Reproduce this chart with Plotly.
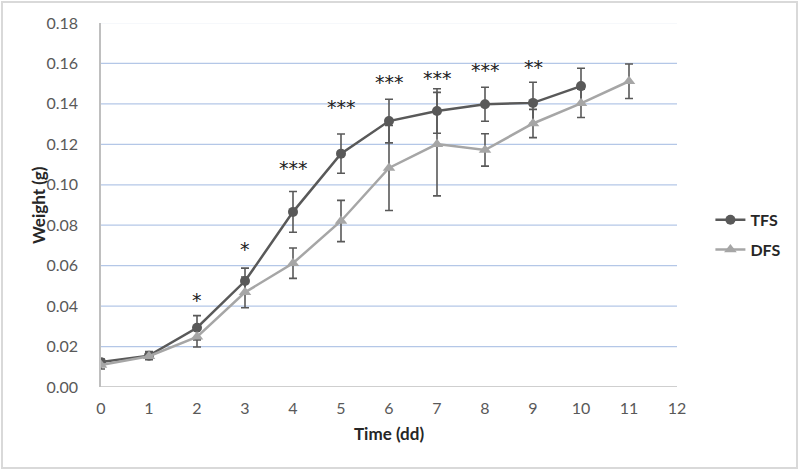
import plotly.graph_objects as go

days = [0, 1, 2, 3, 4, 5, 6, 7, 8, 9, 10, 11]
tfs_days = [0, 1, 2, 3, 4, 5, 6, 7, 8, 9, 10]
tfs = [0.0123, 0.0155, 0.0293, 0.0524, 0.0866, 0.1154, 0.1315, 0.1365, 0.1398, 0.1405, 0.1488]
tfs_err = [0.0015, 0.002, 0.006, 0.0064, 0.0101, 0.0097, 0.0108, 0.011, 0.0084, 0.0102, 0.0088]
dfs = [0.0109, 0.0152, 0.0248, 0.0468, 0.0612, 0.0821, 0.1083, 0.1201, 0.1172, 0.1303, 0.1403, 0.1512]
dfs_err = [0.002, 0.0015, 0.005, 0.0076, 0.0075, 0.0102, 0.021, 0.0256, 0.008, 0.007, 0.007, 0.0085]
sig_days = [2, 3, 4, 5, 6, 7, 8, 9]
sig_labels = ["*", "*", "***", "***", "***", "***", "***", "**"]
sig_y = [0.043, 0.0684, 0.1084, 0.1385, 0.1508, 0.1528, 0.1566, 0.1582]
y_ticks = [0.00, 0.02, 0.04, 0.06, 0.08, 0.10, 0.12, 0.14, 0.16, 0.18]
x_ticks = list(range(0, 13))

FONT = "Lato, Open Sans, sans-serif"
err_col = "#595959"

fig = go.Figure()
fig.add_trace(go.Scatter(
    x=tfs_days, y=tfs, name="TFS", mode="lines+markers", legendgroup="a",
    line=dict(color="#595959", width=2.5),
    marker=dict(symbol="circle", size=10, color="#595959"),
    error_y=dict(type="data", array=tfs_err, visible=True, color=err_col, thickness=1.6, width=4),
))
fig.add_trace(go.Scatter(
    x=days, y=dfs, name="DFS", mode="lines+markers", legendgroup="b",
    line=dict(color="#a6a6a6", width=2.5),
    marker=dict(symbol="triangle-up", size=11, color="#a6a6a6"),
    error_y=dict(type="data", array=dfs_err, visible=True, color=err_col, thickness=1.6, width=4),
))

for d, lab, yy in zip(sig_days, sig_labels, sig_y):
    fig.add_annotation(x=d, y=yy, text=lab, showarrow=False,
                       font=dict(family="DejaVu Sans", size=19, color="#222222"),
                       xanchor="center", yanchor="middle")

# y axis title
fig.add_annotation(xref="paper", yref="paper", x=-0.1094, y=0.5, text="<b>Weight (g)</b>",
                   textangle=-90, showarrow=False, xanchor="center", yanchor="middle",
                   font=dict(family=FONT, size=17, color="#262626"))
# x axis title
fig.add_annotation(xref="paper", yref="paper", x=0.5, y=-0.1291, text="<b>Time (dd)</b>",
                   showarrow=False, xanchor="center", yanchor="middle",
                   font=dict(family=FONT, size=17, color="#262626"))

# gridlines
for v in y_ticks[1:]:
    fig.add_shape(type="line", xref="paper", yref="y", x0=0, x1=1, y0=v, y1=v,
                  line=dict(color="#eef2f8" if v == y_ticks[-1] else "#b4c7e7", width=1.2),
                  layer="below")

# outer frame
fig.add_shape(type="rect", xref="paper", yref="paper",
              x0=-0.1719, x1=1.2083, y0=-0.2225, y1=1.0577,
              line=dict(color="#d9d9d9", width=2), fillcolor="rgba(0,0,0,0)", layer="below")

fig.update_layout(
    width=800, height=471,
    margin=dict(l=101, r=123, t=23, b=84),
    paper_bgcolor="white", plot_bgcolor="white",
    font=dict(family=FONT, size=16, color="#595959"),
    showlegend=True,
    legend=dict(x=1.058, y=0.418, xanchor="left", yanchor="middle",
                font=dict(family=FONT, size=16, color="#262626", weight="bold"),
                bgcolor="rgba(0,0,0,0)", tracegroupgap=6),
    xaxis=dict(range=[0, 12], tickvals=x_ticks, ticktext=[str(v) for v in x_ticks],
               showgrid=False, zeroline=False, showline=False, ticks="", automargin=False,
               ticklabelstandoff=10,
               tickfont=dict(family=FONT, size=16, color="#595959")),
    yaxis=dict(range=[0, 0.18], tickvals=y_ticks, ticktext=[f"{v:.2f}" for v in y_ticks],
               showgrid=False, automargin=False,
               zeroline=False, showline=True, linecolor="#bfbfbf", linewidth=1.5, ticks="",
               ticklabelstandoff=18,
               tickfont=dict(family=FONT, size=16, color="#595959")),
)
# x axis line (bottom)
fig.add_shape(type="line", xref="paper", yref="y", x0=0, x1=1, y0=0, y1=0,
              line=dict(color="#bfbfbf", width=1.5))

fig.write_html("out.html", config={"displayModeBar": False},
               post_script="document.body.style.margin='0';")
